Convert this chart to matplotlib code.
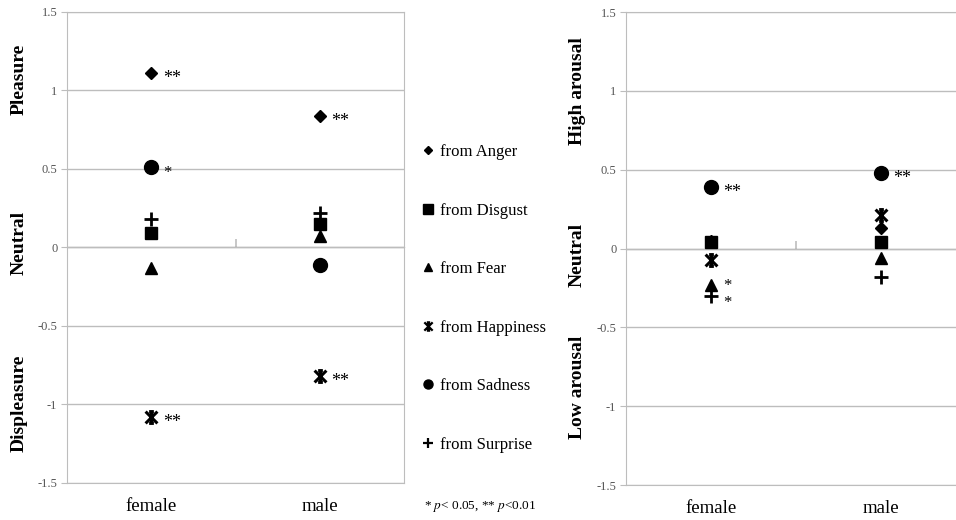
import matplotlib
matplotlib.use("Agg")
import matplotlib.pyplot as plt
import matplotlib.transforms as mtransforms
from matplotlib.path import Path
import numpy as np

plt.rcParams['font.family'] = ['Liberation Serif', 'DejaVu Serif']
plt.rcParams['mathtext.fontset'] = 'stix'

groups = ['female', 'male']
emotions = ['from Anger', 'from Disgust', 'from Fear', 'from Happiness', 'from Sadness', 'from Surprise']

# pleasure dimension (left panel)
pleasure = {
    'from Anger':     [1.11, 0.84],
    'from Disgust':   [0.09, 0.15],
    'from Fear':      [-0.13, 0.07],
    'from Happiness': [-1.08, -0.82],
    'from Sadness':   [0.51, -0.11],
    'from Surprise':  [0.18, 0.22],
}
# arousal dimension (right panel)
arousal = {
    'from Anger':     [0.05, 0.13],
    'from Disgust':   [0.04, 0.04],
    'from Fear':      [-0.23, -0.06],
    'from Happiness': [-0.07, 0.21],
    'from Sadness':   [0.39, 0.48],
    'from Surprise':  [-0.30, -0.18],
}
# significance marks: (group index, emotion, label, vertical nudge in points)
pleasure_sig = [(0, 'from Anger', '**', -4), (0, 'from Sadness', '*', -4), (0, 'from Happiness', '**', -4),
                (1, 'from Anger', '**', -4), (1, 'from Happiness', '**', -4)]
arousal_sig = [(0, 'from Sadness', '**', -4), (0, 'from Fear', '*', -1), (0, 'from Surprise', '*', -5),
               (1, 'from Sadness', '**', -4)]

left_labels = [('Pleasure', 1.07), ('Neutral', 0.03), ('Displeasure', -0.99)]
right_labels = [('High arousal', 1.0), ('Neutral', -0.04), ('Low arousal', -0.88)]

# x with short bars on top and bottom
star = Path([(-1, -1), (1, 1), (-1, 1), (1, -1), (0, -1), (0, 1),
             (-0.4, 1), (0.4, 1), (-0.4, -1), (0.4, -1)],
            [Path.MOVETO, Path.LINETO] * 5)
styles = {
    'from Anger':     dict(marker='D', ms=6.5),
    'from Disgust':   dict(marker='s', ms=8.5),
    'from Fear':      dict(marker='^', ms=8),
    'from Happiness': dict(marker=star, ms=8.5, mew=2.2),
    'from Sadness':   dict(marker='o', ms=10),
    'from Surprise':  dict(marker='+', ms=10, mew=2),
}

grey = '#bdbdbd'

fig = plt.figure(figsize=(9.56, 5.2), dpi=100)
ax1 = fig.add_axes([0.0701, 0.0712, 0.3525, 0.906])
ax2 = fig.add_axes([0.6548, 0.0673, 0.3556, 0.9096])


def draw(ax, data, sig, labels):
    x = np.arange(len(groups))
    handles = []
    for e in emotions:
        h, = ax.plot(x, data[e], ls='none', color='black', mec='black', label=e, **styles[e])
        handles.append(h)
    for gi, e, lab, dy in sig:
        ax.annotate(lab, (x[gi], data[e][gi]), xytext=(8.5, dy), textcoords='offset points',
                    fontsize=13 if len(lab) > 1 else 12, va='center', ha='left')
    ax.set_xlim(-0.5, 1.5)
    ax.set_ylim(-1.5, 1.5)
    ax.set_yticks(np.arange(-1.5, 1.51, 0.5))
    ax.set_yticklabels(['-1.5', '-1', '-0.5', '0', '0.5', '1', '1.5'])
    ax.set_xticks(x)
    ax.set_xticklabels(groups, fontsize=13.5)
    ax.tick_params(axis='x', length=0, pad=11)
    ax.tick_params(axis='y', length=4, color=grey, labelsize=9, labelcolor='#555555', pad=3)
    ax.grid(axis='y', color=grey, lw=1)
    ax.set_axisbelow(True)
    for s in ax.spines.values():
        s.set_color(grey)
    # category axis crossing at zero with a tick between the categories
    sec = ax.secondary_xaxis(0.5)
    sec.set_xticks([0.5])
    sec.set_xticklabels([''])
    sec.tick_params(length=6, color=grey, width=1.2)
    sec.spines['bottom'].set_visible(False)
    trans = mtransforms.blended_transform_factory(ax.transAxes, ax.transData)
    for txt, yv in labels:
        ax.text(-0.143, yv, txt, transform=trans, rotation=90, ha='center', va='center',
                fontsize=14, fontweight='bold')
    return handles


handles = draw(ax1, pleasure, pleasure_sig, left_labels)
draw(ax2, arousal, arousal_sig, right_labels)

small = {'from Anger': 4.5, 'from Disgust': 6.5, 'from Fear': 5.5, 'from Happiness': 6,
         'from Sadness': 6.5, 'from Surprise': 7}
leg = fig.legend(handles, emotions, loc='center left', bbox_to_anchor=(0.436, 0.426),
                 frameon=False, fontsize=12, labelspacing=2.55, handlelength=0.6,
                 handletextpad=0.4, borderaxespad=0)
for h, e in zip(leg.legend_handles, emotions):
    h.set_markersize(small[e])
    if e in ('from Happiness', 'from Surprise'):
        h.set_markeredgewidth(1.6)

fig.text(0.444, 0.025, r'* $\it{p}$< 0.05, ** $\it{p}$<0.01', fontsize=9.5, ha='left', va='center')

plt.savefig('out.png', dpi=100)
